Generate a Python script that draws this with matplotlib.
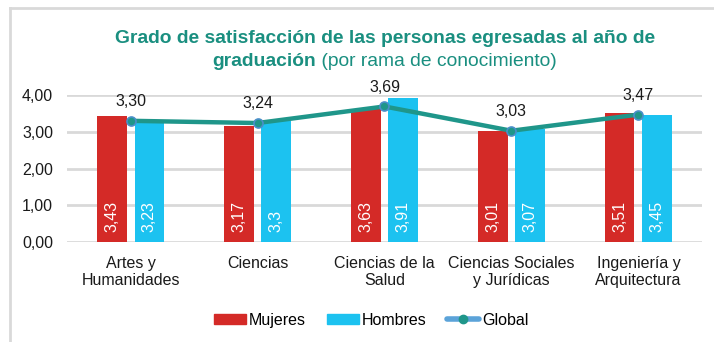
import matplotlib
matplotlib.use("Agg")
import matplotlib.pyplot as plt
from matplotlib.lines import Line2D
from matplotlib.patches import Patch
import numpy as np

plt.rcParams['font.family'] = ['Liberation Sans', 'DejaVu Sans']

categories = ["Artes y\nHumanidades", "Ciencias", "Ciencias de la\nSalud",
              "Ciencias Sociales\ny Jurídicas", "Ingeniería y\nArquitectura"]
mujeres = [3.43, 3.17, 3.63, 3.01, 3.51]
hombres = [3.23, 3.3, 3.91, 3.07, 3.45]
hombres_labels = ["3,23", "3,3", "3,91", "3,07", "3,45"]
global_vals = [3.30, 3.24, 3.69, 3.03, 3.47]
yticks = [0, 1, 2, 3, 4]

RED = "#d42a27"
BLUE = "#1cc2f0"
TEAL = "#1f968a"
TITLE_C = "#1a8f80"
FS = 11.5

def fmt(v, nd=2):
    return f"{v:.{nd}f}".replace(".", ",")

fig = plt.figure(figsize=(7.14, 3.42), dpi=100)
ax = fig.add_axes([0.094, 0.292, 0.889, 0.430])

x = np.arange(len(categories))
w = 0.23
off = 0.146
ax.bar(x - off, mujeres, w, color=RED, zorder=2, clip_on=False)
ax.bar(x + off, hombres, w, color=BLUE, zorder=2, clip_on=False)
ax.plot(x, global_vals, color=TEAL, lw=3.2, zorder=3, clip_on=False,
        marker="o", ms=6.5, mfc=TEAL, mec="#4a8fc9", mew=1.2)

for xi, v in zip(x, mujeres):
    ax.annotate(fmt(v), (xi - off, 0), xytext=(0, 7), textcoords="offset points",
                rotation=90, ha="center", va="bottom", color="white", fontsize=FS)
for xi, s in zip(x, hombres_labels):
    ax.annotate(s, (xi + off, 0), xytext=(0, 7), textcoords="offset points",
                rotation=90, ha="center", va="bottom", color="white", fontsize=FS)
for xi, v in zip(x, global_vals):
    ax.annotate(fmt(v), (xi, v), xytext=(0, 14), textcoords="offset points",
                ha="center", va="center", color="#1a1a1a", fontsize=FS)

ax.set_xlim(-0.5, len(categories) - 0.5)
ax.set_ylim(0, 4)
ax.set_yticks(yticks)
ax.set_yticklabels([fmt(t) for t in yticks], fontsize=FS, color="#1a1a1a")
ax.set_xticks(x)
ax.set_xticklabels(categories, fontsize=FS, color="#1a1a1a", linespacing=1.2)
ax.tick_params(axis="both", length=0)
ax.tick_params(axis="y", pad=10)
ax.tick_params(axis="x", pad=10)
ax.grid(axis="y", color="#d9d9d9", lw=2, zorder=0)
for s in ax.spines.values():
    s.set_visible(False)

# Title: first line bold, second line mixes bold and regular
TFS = 13.9
tx, ty1, ty2 = 0.539, 0.874, 0.808
fig.text(tx, ty1, "Grado de satisfacción de las personas egresadas al año de",
         ha="center", va="baseline", fontsize=TFS, fontweight="bold", color=TITLE_C)
renderer = fig.canvas.get_renderer()
t_bold = fig.text(0, ty2, "graduación", ha="left", va="baseline", fontsize=TFS,
                  fontweight="bold", color=TITLE_C)
t_reg = fig.text(0, ty2, " (por rama de conocimiento)", ha="left", va="baseline",
                 fontsize=TFS, color=TITLE_C)
wb = t_bold.get_window_extent(renderer).width / fig.bbox.width
wr = t_reg.get_window_extent(renderer).width / fig.bbox.width
start = tx - (wb + wr) / 2
t_bold.set_x(start)
t_reg.set_x(start + wb)

# Chart frame (top and left edges)
fig.add_artist(Line2D([10 / 714, 1], [1 - 8 / 342, 1 - 8 / 342], color="#d9d9d9", lw=2))
fig.add_artist(Line2D([10 / 714, 10 / 714], [0, 1 - 8 / 342], color="#d9d9d9", lw=2))

handles = [
    Patch(color=RED, label="Mujeres"),
    Patch(color=BLUE, label="Hombres"),
    Line2D([], [], color="#5ba3d9", lw=4, marker="o", ms=6, mfc=TEAL, mec=TEAL,
           solid_capstyle="round", label="Global"),
]
fig.legend(handles=handles, loc="center", bbox_to_anchor=(0.52, 0.064), ncol=3,
           frameon=False, fontsize=FS, handlelength=2.0, handleheight=0.55,
           handletextpad=0.2, columnspacing=1.3)

fig.savefig("out.png", dpi=100)
